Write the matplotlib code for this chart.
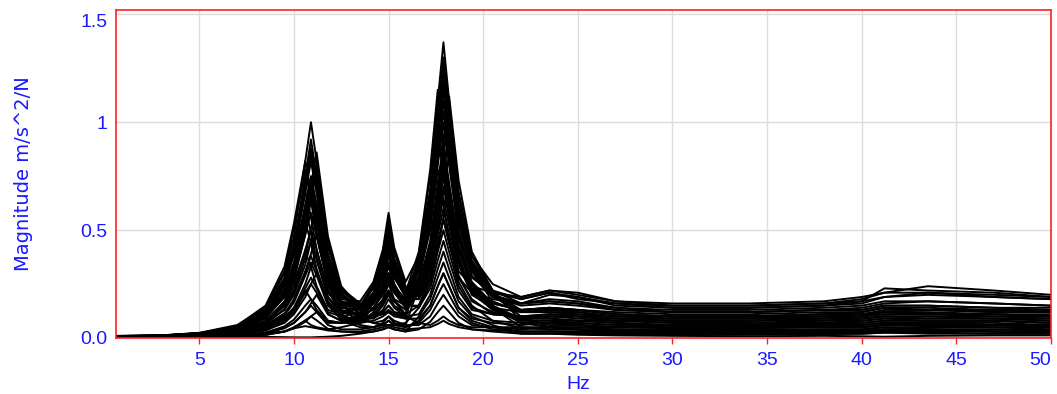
import matplotlib
matplotlib.use("Agg")
import matplotlib.pyplot as plt

# frequency points (Hz) shared by all measured channels
freq = [0.625, 3, 5, 7, 8.5, 9.5, 10.0, 10.6, 10.9, 11.2, 11.8, 12.5,
        13.5, 14.2, 14.7, 15.0, 15.3, 15.9, 16.6, 17.2, 17.6, 17.9, 18.2,
        18.7, 19.4, 20.5, 22, 23.5, 25, 27, 30, 34, 38, 40, 41.2, 43.5, 47, 50]

# magnitude per channel, m/s^2/N
c01 = [0.010, 0.012, 0.024, 0.06, 0.14, 0.30, 0.47, 0.82, 1.00, 0.82, 0.42, 0.23, 0.16, 0.17, 0.21, 0.26, 0.22, 0.18, 0.18, 0.28, 0.44, 0.55, 0.44, 0.28, 0.21, 0.18, 0.16, 0.20, 0.19, 0.15, 0.14, 0.14, 0.15, 0.17, 0.23, 0.22, 0.21, 0.19]
c02 = [0.009, 0.011, 0.022, 0.055, 0.13, 0.28, 0.43, 0.75, 0.92, 0.75, 0.39, 0.21, 0.13, 0.14, 0.17, 0.21, 0.18, 0.15, 0.22, 0.40, 0.64, 0.80, 0.64, 0.38, 0.22, 0.16, 0.13, 0.14, 0.13, 0.11, 0.10, 0.10, 0.11, 0.12, 0.14, 0.13, 0.13, 0.12]
c03 = [0.008, 0.010, 0.020, 0.05, 0.12, 0.26, 0.40, 0.70, 0.85, 0.70, 0.36, 0.20, 0.11, 0.10, 0.11, 0.13, 0.11, 0.09, 0.09, 0.15, 0.24, 0.30, 0.24, 0.14, 0.09, 0.07, 0.06, 0.07, 0.06, 0.05, 0.05, 0.05, 0.06, 0.06, 0.07, 0.07, 0.06, 0.06]
c04 = [0.008, 0.011, 0.021, 0.04, 0.10, 0.19, 0.29, 0.50, 0.66, 0.80, 0.44, 0.22, 0.15, 0.19, 0.27, 0.35, 0.28, 0.20, 0.23, 0.40, 0.61, 0.84, 1.05, 0.68, 0.38, 0.22, 0.18, 0.21, 0.19, 0.16, 0.15, 0.15, 0.16, 0.17, 0.19, 0.20, 0.19, 0.18]
c05 = [0.008, 0.010, 0.021, 0.055, 0.14, 0.31, 0.51, 0.78, 0.64, 0.47, 0.25, 0.15, 0.09, 0.07, 0.08, 0.10, 0.08, 0.06, 0.06, 0.10, 0.16, 0.20, 0.16, 0.10, 0.06, 0.05, 0.04, 0.05, 0.04, 0.04, 0.03, 0.03, 0.04, 0.04, 0.05, 0.04, 0.04, 0.04]
c06 = [0.008, 0.011, 0.021, 0.045, 0.10, 0.22, 0.34, 0.59, 0.72, 0.59, 0.30, 0.17, 0.15, 0.21, 0.32, 0.45, 0.33, 0.22, 0.34, 0.60, 0.96, 1.20, 0.96, 0.58, 0.34, 0.20, 0.16, 0.18, 0.17, 0.14, 0.12, 0.12, 0.13, 0.14, 0.16, 0.17, 0.16, 0.15]
c07 = [0.009, 0.012, 0.023, 0.04, 0.09, 0.20, 0.31, 0.53, 0.65, 0.53, 0.27, 0.18, 0.17, 0.26, 0.41, 0.58, 0.42, 0.26, 0.38, 0.68, 1.10, 1.37, 1.10, 0.66, 0.38, 0.25, 0.19, 0.22, 0.21, 0.17, 0.16, 0.16, 0.17, 0.19, 0.21, 0.24, 0.22, 0.20]
c08 = [0.008, 0.011, 0.020, 0.04, 0.11, 0.24, 0.39, 0.60, 0.49, 0.36, 0.19, 0.12, 0.11, 0.16, 0.23, 0.30, 0.23, 0.17, 0.35, 0.63, 1.00, 1.25, 1.00, 0.60, 0.35, 0.21, 0.13, 0.13, 0.12, 0.10, 0.09, 0.09, 0.10, 0.10, 0.12, 0.12, 0.11, 0.11]
c09 = [0.007, 0.010, 0.018, 0.03, 0.07, 0.13, 0.20, 0.34, 0.45, 0.55, 0.30, 0.16, 0.15, 0.23, 0.36, 0.50, 0.36, 0.22, 0.32, 0.58, 0.92, 1.15, 0.92, 0.55, 0.32, 0.20, 0.12, 0.12, 0.11, 0.09, 0.08, 0.08, 0.09, 0.09, 0.10, 0.10, 0.10, 0.09]
c10 = [0.008, 0.011, 0.020, 0.03, 0.07, 0.15, 0.24, 0.41, 0.50, 0.41, 0.21, 0.14, 0.13, 0.19, 0.29, 0.40, 0.30, 0.19, 0.36, 0.65, 1.04, 1.30, 1.04, 0.62, 0.36, 0.22, 0.16, 0.17, 0.16, 0.13, 0.12, 0.12, 0.13, 0.13, 0.15, 0.15, 0.14, 0.14]
c11 = [0.007, 0.009, 0.017, 0.027, 0.063, 0.135, 0.21, 0.37, 0.45, 0.37, 0.19, 0.10, 0.08, 0.10, 0.12, 0.15, 0.12, 0.10, 0.33, 0.65, 0.95, 0.76, 0.55, 0.34, 0.22, 0.13, 0.09, 0.09, 0.08, 0.07, 0.06, 0.06, 0.07, 0.07, 0.08, 0.08, 0.08, 0.07]
c12 = [0.006, 0.009, 0.016, 0.03, 0.07, 0.16, 0.26, 0.40, 0.33, 0.24, 0.13, 0.11, 0.14, 0.24, 0.38, 0.52, 0.37, 0.23, 0.21, 0.35, 0.56, 0.70, 0.56, 0.34, 0.20, 0.14, 0.12, 0.13, 0.13, 0.11, 0.10, 0.10, 0.11, 0.11, 0.12, 0.13, 0.12, 0.12]
c13 = [0.006, 0.008, 0.015, 0.021, 0.05, 0.105, 0.165, 0.29, 0.35, 0.29, 0.15, 0.09, 0.09, 0.14, 0.20, 0.28, 0.21, 0.14, 0.39, 0.75, 1.10, 0.88, 0.64, 0.40, 0.25, 0.15, 0.07, 0.07, 0.06, 0.05, 0.05, 0.05, 0.05, 0.05, 0.06, 0.06, 0.06, 0.05]
c14 = [0.005, 0.007, 0.013, 0.015, 0.036, 0.07, 0.11, 0.19, 0.25, 0.30, 0.17, 0.08, 0.05, 0.05, 0.06, 0.08, 0.06, 0.06, 0.24, 0.43, 0.68, 0.85, 0.68, 0.41, 0.24, 0.14, 0.05, 0.04, 0.04, 0.03, 0.03, 0.03, 0.03, 0.03, 0.04, 0.04, 0.03, 0.03]
c15 = [0.005, 0.007, 0.012, 0.015, 0.035, 0.075, 0.12, 0.21, 0.25, 0.21, 0.11, 0.08, 0.11, 0.20, 0.32, 0.45, 0.32, 0.20, 0.18, 0.30, 0.48, 0.60, 0.48, 0.29, 0.17, 0.12, 0.09, 0.10, 0.10, 0.08, 0.07, 0.07, 0.08, 0.08, 0.09, 0.09, 0.09, 0.08]
c16 = [0.005, 0.007, 0.012, 0.015, 0.04, 0.09, 0.14, 0.22, 0.18, 0.13, 0.08, 0.07, 0.07, 0.10, 0.15, 0.20, 0.15, 0.11, 0.25, 0.43, 0.65, 0.90, 1.12, 0.73, 0.40, 0.22, 0.08, 0.08, 0.07, 0.06, 0.06, 0.06, 0.06, 0.06, 0.07, 0.07, 0.07, 0.06]
c17 = [0.004, 0.006, 0.010, 0.011, 0.025, 0.054, 0.085, 0.15, 0.18, 0.15, 0.08, 0.07, 0.09, 0.16, 0.25, 0.35, 0.25, 0.16, 0.14, 0.23, 0.36, 0.45, 0.36, 0.22, 0.13, 0.11, 0.10, 0.11, 0.11, 0.10, 0.09, 0.09, 0.10, 0.10, 0.11, 0.11, 0.11, 0.10]
c18 = [0.004, 0.005, 0.009, 0.01, 0.02, 0.045, 0.07, 0.12, 0.15, 0.12, 0.06, 0.04, 0.04, 0.05, 0.07, 0.10, 0.07, 0.05, 0.08, 0.15, 0.24, 0.30, 0.24, 0.14, 0.08, 0.05, 0.03, 0.03, 0.03, 0.025, 0.02, 0.02, 0.025, 0.025, 0.03, 0.03, 0.03, 0.025]
c19 = [0.004, 0.005, 0.009, 0.01, 0.015, 0.03, 0.045, 0.075, 0.10, 0.12, 0.07, 0.07, 0.10, 0.19, 0.30, 0.42, 0.30, 0.19, 0.21, 0.36, 0.55, 0.76, 0.95, 0.62, 0.34, 0.19, 0.13, 0.14, 0.13, 0.12, 0.11, 0.11, 0.12, 0.12, 0.14, 0.14, 0.13, 0.13]
c20 = [0.003, 0.004, 0.007, 0.008, 0.014, 0.03, 0.047, 0.082, 0.10, 0.082, 0.042, 0.03, 0.025, 0.03, 0.04, 0.05, 0.04, 0.03, 0.04, 0.075, 0.12, 0.15, 0.12, 0.07, 0.04, 0.03, 0.02, 0.02, 0.02, 0.018, 0.015, 0.015, 0.018, 0.02, 0.025, 0.02, 0.02, 0.02]
c21 = [0.003, 0.004, 0.006, 0.012, 0.02, 0.03, 0.05, 0.08, 0.06, 0.05, 0.04, 0.05, 0.07, 0.12, 0.18, 0.25, 0.18, 0.10, 0.07, 0.06, 0.08, 0.10, 0.08, 0.06, 0.05, 0.05, 0.05, 0.05, 0.05, 0.05, 0.045, 0.045, 0.05, 0.05, 0.06, 0.055, 0.05, 0.05]
c22 = [0.002, 0.003, 0.004, 0.005, 0.005, 0.004, 0.003, 0.003, 0.003, 0.004, 0.006, 0.01, 0.02, 0.03, 0.04, 0.05, 0.04, 0.03, 0.10, 0.18, 0.28, 0.35, 0.28, 0.17, 0.10, 0.06, 0.02, 0.02, 0.015, 0.012, 0.01, 0.008, 0.01, 0.008, 0.006, 0.01, 0.012, 0.012]
c23 = [0.003, 0.004, 0.006, 0.010, 0.018, 0.03, 0.045, 0.055, 0.05, 0.045, 0.035, 0.03, 0.03, 0.04, 0.05, 0.06, 0.05, 0.04, 0.045, 0.05, 0.065, 0.08, 0.065, 0.05, 0.04, 0.035, 0.03, 0.03, 0.03, 0.03, 0.025, 0.025, 0.03, 0.03, 0.035, 0.035, 0.03, 0.03]
c24 = [0.007, 0.009, 0.018, 0.042, 0.10, 0.21, 0.33, 0.57, 0.70, 0.57, 0.29, 0.16, 0.09, 0.07, 0.06, 0.06, 0.06, 0.07, 0.14, 0.25, 0.40, 0.50, 0.40, 0.24, 0.14, 0.11, 0.10, 0.11, 0.10, 0.09, 0.08, 0.08, 0.09, 0.10, 0.11, 0.11, 0.10, 0.10]
c25 = [0.009, 0.011, 0.022, 0.053, 0.12, 0.26, 0.41, 0.72, 0.88, 0.72, 0.37, 0.20, 0.15, 0.18, 0.23, 0.30, 0.24, 0.18, 0.28, 0.50, 0.80, 1.00, 0.80, 0.48, 0.28, 0.21, 0.18, 0.21, 0.18, 0.16, 0.14, 0.14, 0.15, 0.16, 0.19, 0.21, 0.19, 0.18]
c26 = [0.007, 0.009, 0.017, 0.03, 0.075, 0.15, 0.22, 0.38, 0.51, 0.62, 0.34, 0.17, 0.11, 0.13, 0.17, 0.22, 0.17, 0.13, 0.21, 0.38, 0.60, 0.75, 0.60, 0.36, 0.21, 0.13, 0.08, 0.08, 0.08, 0.07, 0.06, 0.06, 0.07, 0.07, 0.08, 0.08, 0.08, 0.07]
c27 = [0.006, 0.008, 0.014, 0.017, 0.04, 0.084, 0.13, 0.23, 0.28, 0.23, 0.12, 0.10, 0.12, 0.21, 0.34, 0.48, 0.35, 0.21, 0.40, 0.78, 1.15, 0.92, 0.67, 0.41, 0.26, 0.16, 0.13, 0.14, 0.13, 0.11, 0.10, 0.10, 0.11, 0.11, 0.13, 0.13, 0.12, 0.12]
c28 = [0.006, 0.008, 0.014, 0.02, 0.048, 0.096, 0.14, 0.25, 0.33, 0.40, 0.22, 0.11, 0.07, 0.08, 0.10, 0.12, 0.10, 0.09, 0.33, 0.59, 0.94, 1.18, 0.94, 0.57, 0.33, 0.20, 0.10, 0.05, 0.05, 0.04, 0.04, 0.04, 0.04, 0.04, 0.05, 0.05, 0.05, 0.04]
c29 = [0.008, 0.010, 0.019, 0.045, 0.105, 0.225, 0.35, 0.62, 0.75, 0.62, 0.32, 0.17, 0.13, 0.18, 0.27, 0.38, 0.28, 0.19, 0.25, 0.45, 0.72, 0.90, 0.72, 0.43, 0.25, 0.15, 0.09, 0.06, 0.06, 0.05, 0.05, 0.05, 0.05, 0.05, 0.06, 0.06, 0.06, 0.05]
c30 = [0.008, 0.010, 0.021, 0.057, 0.15, 0.33, 0.53, 0.82, 0.67, 0.49, 0.26, 0.16, 0.09, 0.09, 0.12, 0.15, 0.12, 0.11, 0.35, 0.68, 1.00, 0.80, 0.58, 0.36, 0.23, 0.14, 0.07, 0.05, 0.04, 0.03, 0.03, 0.03, 0.03, 0.03, 0.04, 0.04, 0.03, 0.03]
c31 = [0.008, 0.011, 0.021, 0.05, 0.115, 0.25, 0.39, 0.67, 0.82, 0.67, 0.34, 0.19, 0.14, 0.20, 0.30, 0.42, 0.31, 0.21, 0.31, 0.55, 0.88, 1.10, 0.88, 0.53, 0.31, 0.19, 0.15, 0.16, 0.15, 0.13, 0.12, 0.12, 0.13, 0.13, 0.15, 0.15, 0.14, 0.13]
c32 = [0.007, 0.010, 0.019, 0.048, 0.12, 0.27, 0.44, 0.68, 0.56, 0.41, 0.22, 0.13, 0.11, 0.17, 0.25, 0.33, 0.25, 0.16, 0.34, 0.67, 0.98, 0.78, 0.57, 0.35, 0.23, 0.14, 0.09, 0.10, 0.09, 0.08, 0.08, 0.08, 0.08, 0.09, 0.10, 0.09, 0.09, 0.08]
c33 = [0.008, 0.011, 0.020, 0.04, 0.094, 0.19, 0.28, 0.48, 0.64, 0.78, 0.43, 0.22, 0.15, 0.17, 0.21, 0.25, 0.21, 0.17, 0.20, 0.33, 0.52, 0.65, 0.52, 0.31, 0.24, 0.21, 0.19, 0.22, 0.20, 0.17, 0.15, 0.15, 0.16, 0.18, 0.21, 0.21, 0.20, 0.19]
c34 = [0.007, 0.009, 0.017, 0.035, 0.08, 0.17, 0.27, 0.48, 0.58, 0.48, 0.24, 0.13, 0.08, 0.10, 0.13, 0.18, 0.14, 0.10, 0.11, 0.20, 0.32, 0.40, 0.32, 0.19, 0.11, 0.08, 0.07, 0.07, 0.07, 0.06, 0.06, 0.06, 0.06, 0.06, 0.07, 0.07, 0.06, 0.06]
c35 = [0.006, 0.009, 0.016, 0.024, 0.058, 0.115, 0.17, 0.30, 0.39, 0.48, 0.26, 0.15, 0.15, 0.25, 0.40, 0.55, 0.40, 0.24, 0.19, 0.32, 0.49, 0.68, 0.85, 0.55, 0.31, 0.17, 0.12, 0.12, 0.12, 0.10, 0.10, 0.10, 0.10, 0.11, 0.12, 0.11, 0.11, 0.10]
c36 = [0.005, 0.008, 0.014, 0.023, 0.053, 0.11, 0.18, 0.31, 0.38, 0.31, 0.16, 0.09, 0.07, 0.11, 0.16, 0.22, 0.17, 0.11, 0.15, 0.28, 0.44, 0.55, 0.44, 0.26, 0.15, 0.08, 0.045, 0.04, 0.04, 0.035, 0.035, 0.035, 0.035, 0.035, 0.04, 0.04, 0.04, 0.035]
c37 = [0.007, 0.010, 0.018, 0.04, 0.09, 0.20, 0.31, 0.54, 0.66, 0.54, 0.28, 0.15, 0.10, 0.10, 0.11, 0.12, 0.11, 0.10, 0.29, 0.53, 0.84, 1.05, 0.84, 0.50, 0.29, 0.19, 0.16, 0.17, 0.16, 0.14, 0.13, 0.13, 0.14, 0.15, 0.17, 0.17, 0.16, 0.15]
c38 = [0.004, 0.006, 0.010, 0.01, 0.024, 0.048, 0.07, 0.12, 0.16, 0.20, 0.11, 0.08, 0.08, 0.14, 0.22, 0.30, 0.22, 0.14, 0.27, 0.53, 0.78, 0.62, 0.45, 0.28, 0.18, 0.11, 0.10, 0.10, 0.10, 0.09, 0.09, 0.09, 0.09, 0.09, 0.10, 0.10, 0.09, 0.09]
c39 = [0.006, 0.008, 0.016, 0.038, 0.10, 0.22, 0.35, 0.54, 0.44, 0.32, 0.17, 0.10, 0.06, 0.05, 0.06, 0.08, 0.06, 0.05, 0.07, 0.13, 0.20, 0.25, 0.20, 0.12, 0.07, 0.04, 0.03, 0.03, 0.025, 0.02, 0.02, 0.02, 0.02, 0.02, 0.025, 0.025, 0.02, 0.02]
c40 = [0.009, 0.012, 0.022, 0.043, 0.10, 0.21, 0.31, 0.53, 0.71, 0.86, 0.47, 0.24, 0.14, 0.17, 0.22, 0.28, 0.22, 0.15, 0.15, 0.27, 0.41, 0.56, 0.70, 0.46, 0.25, 0.14, 0.09, 0.09, 0.08, 0.08, 0.07, 0.07, 0.07, 0.08, 0.09, 0.08, 0.08, 0.07]

channels = [c01, c02, c03, c04, c05, c06, c07, c08, c09, c10,
            c11, c12, c13, c14, c15, c16, c17, c18, c19, c20,
            c21, c22, c23, c24, c25, c26, c27, c28, c29, c30,
            c31, c32, c33, c34, c35, c36, c37, c38, c39, c40]

xticks = [5, 10, 15, 20, 25, 30, 35, 40, 45, 50]
yticks = [0.0, 0.5, 1.0, 1.5]
ytick_labels = ["0.0", "0.5", "1", "1.5"]

blue = "#1a1aff"
red = "#ff2020"
plt.rcParams["font.family"] = ["Liberation Sans", "DejaVu Sans"]

fig = plt.figure(figsize=(10.57, 3.94), dpi=100)
ax = fig.add_axes([116 / 1057, 56 / 394, 935 / 1057, 328 / 394])

for mag in channels:
    ax.plot(freq, mag, color="black", lw=1.4)

ax.set_xlim(0.6, 50)
ax.set_ylim(0, 1.52)
ax.set_xticks(xticks)
ax.set_yticks(yticks)
ax.set_yticklabels(ytick_labels)
ax.grid(True, color="#dcdcdc", lw=1.0)
ax.set_axisbelow(True)

for s in ax.spines.values():
    s.set_color(red)
    s.set_linewidth(1.2)

ax.tick_params(axis="x", colors=red, labelcolor=blue, length=4, width=1,
               direction="out", labelsize=14, pad=6)
ax.tick_params(axis="y", length=0, labelcolor=blue, labelsize=14, pad=6)

# keep the last x label and the top y label inside the frame, like the original
ax.get_xticklabels()[-1].set_horizontalalignment("right")
ax.get_yticklabels()[-1].set_verticalalignment("top")

ax.set_xlabel("Hz", color=blue, fontsize=14)
ax.xaxis.set_label_coords((25 - 0.6) / (50 - 0.6), -0.115)
ax.set_ylabel("Magnitude m/s^2/N", color=blue, fontsize=14, family="DejaVu Sans")
ax.yaxis.set_label_coords(-0.089, 0.5)

fig.savefig("out.png", dpi=100)
